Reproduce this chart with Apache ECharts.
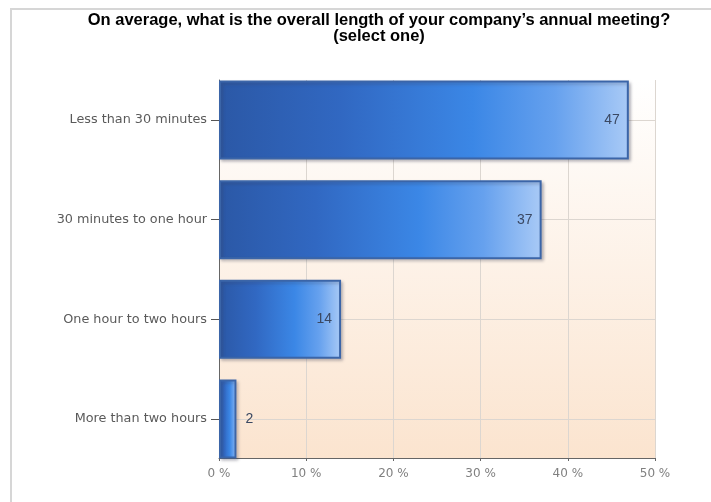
<!DOCTYPE html>
<html>
<head>
<meta charset="utf-8">
<script src="https://cdn.jsdelivr.net/npm/echarts@6/dist/echarts.min.js"></script>
<style>
  html, body { margin: 0; padding: 0; background: #fff; }
  #wrap { position: relative; width: 711px; height: 502px; overflow: hidden; }
  #frame { position: absolute; left: 10px; top: 8px; width: 800px; height: 600px;
           border-left: 2px solid #d6d6d6; border-top: 2px solid #d6d6d6; }
  #chart { position: absolute; left: 0; top: 0; width: 711px; height: 502px; }
</style>
</head>
<body>
<div id="wrap"><div id="frame"></div><div id="chart"></div></div>
<script>
// Survey question and answers
const titleText = 'On average, what is the overall length of your company\u2019s annual meeting?\n(select one)';
const categories = [
  'Less than 30 minutes',
  '30 minutes to one hour',
  'One hour to two hours',
  'More than two hours'
];
// Share of respondents, in percent
const percentages = [47, 37, 14, 2];
// Percent axis
const axisMin = 0;
const axisMax = 50;
const axisStep = 10;

const chart = echarts.init(document.getElementById('chart'), null, { renderer: 'canvas' });

const labelFont = 'DejaVu Sans';

const barFill = new echarts.graphic.LinearGradient(0, 0, 1, 0, [
  { offset: 0,    color: '#2b58a6' },
  { offset: 0.3,  color: '#3168c2' },
  { offset: 0.62, color: '#3b87e6' },
  { offset: 0.82, color: '#66a1ee' },
  { offset: 1,    color: '#a9caf6' }
]);

const plotFill = new echarts.graphic.LinearGradient(0, 0, 0, 1, [
  { offset: 0, color: '#ffffff' },
  { offset: 1, color: '#fbe4cf' }
]);

chart.setOption({
  animation: false,
  title: {
    text: titleText,
    left: 374,
    textAlign: 'center',
    top: 7,
    textStyle: {
      fontFamily: 'Liberation Sans',
      fontWeight: 'bold',
      fontSize: 16.5,
      lineHeight: 16,
      color: '#000'
    }
  },
  grid: [
    // plot frame: background, percent axis, vertical grid lines
    { left: 219, right: 56, top: 80, bottom: 44, show: true, borderWidth: 0, backgroundColor: plotFill },
    // bar rows: categories spaced evenly between first and last row centre
    { left: 219, right: 56, top: 120, bottom: 83 }
  ],
  xAxis: [
    {
      gridIndex: 0,
      type: 'value',
      min: axisMin, max: axisMax, interval: axisStep,
      axisLine: { show: true, lineStyle: { color: '#666', width: 1 } },
      axisTick: { show: true, length: 3, lineStyle: { color: '#666' } },
      axisLabel: {
        formatter: '{value} %',
        color: '#808080',
        fontFamily: labelFont,
        fontSize: 12,
        margin: 10
      },
      splitLine: { show: true, lineStyle: { color: '#dcd6d0', width: 1 } }
    },
    {
      gridIndex: 1,
      type: 'value',
      min: axisMin, max: axisMax,
      show: false
    }
  ],
  yAxis: [
    {
      gridIndex: 0,
      type: 'value',
      min: 0, max: 1,
      axisLine: { show: true, lineStyle: { color: '#666', width: 1 } },
      axisTick: { show: false },
      axisLabel: { show: false },
      splitLine: { show: false }
    },
    {
      gridIndex: 1,
      type: 'category',
      inverse: true,
      boundaryGap: false,
      data: categories,
      axisLine: { show: false },
      axisTick: { show: true, length: 8, lineStyle: { color: '#555' } },
      axisLabel: {
        color: '#5a5a5a',
        fontFamily: labelFont,
        fontSize: 12.8,
        margin: 12
      },
      splitLine: { show: true, lineStyle: { color: '#dcd6d0', width: 1 } }
    }
  ],
  series: [
    {
      type: 'bar',
      xAxisIndex: 1,
      yAxisIndex: 1,
      barWidth: 79,
      clip: false,
      data: percentages.map(v => ({
        value: v,
        label: v < 5 ? { position: 'right', distance: 9 } : undefined
      })),
      itemStyle: {
        color: barFill,
        borderColor: '#3b65a8',
        borderWidth: 2,
        shadowColor: 'rgba(60,60,80,0.3)',
        shadowBlur: 3,
        shadowOffsetX: 2,
        shadowOffsetY: 2
      },
      label: {
        show: true,
        position: 'insideRight',
        distance: 9,
        color: '#3a4862',
        fontFamily: 'Liberation Sans',
        fontSize: 14
      }
    }
  ]
});
</script>
</body>
</html>
